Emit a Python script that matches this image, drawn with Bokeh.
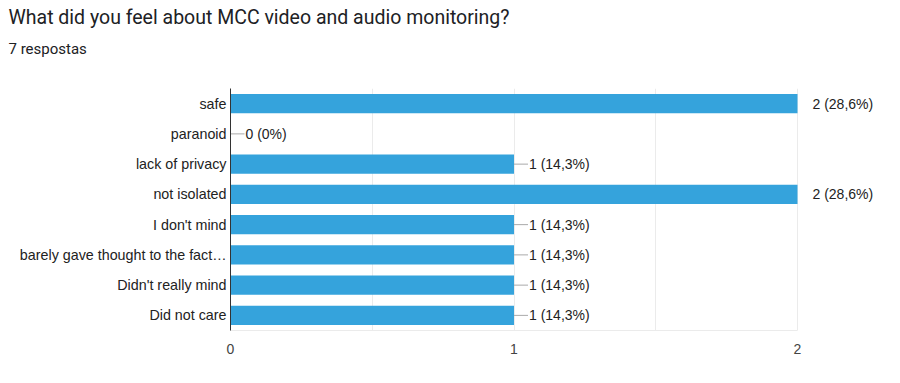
from bokeh.plotting import figure
from bokeh.models import (ColumnDataSource, FactorRange, Range1d, FixedTicker,
                          LabelSet, Title)
from bokeh.core.properties import value
from bokeh.embed import file_html
from bokeh.resources import INLINE

# ---- data ----
categories = ["safe", "paranoid", "lack of privacy", "not isolated", "I don't mind",
              "barely gave thought to the fact\u2026", "Didn't really mind", "Did not care"]
counts = [2, 0, 1, 2, 1, 1, 1, 1]
total_responses = 7
x_ticks = [0, 1, 2]
title_text = "What did you feel about MCC video and audio monitoring?"
subtitle_text = f"{total_responses} respostas"


def fmt_pct(c):
    p = round(100.0 * c / total_responses, 1)
    s = f"{p:.1f}".replace(".", ",")
    if s.endswith(",0"):
        s = s[:-2]
    return s + "%"


labels = [f"{c} ({fmt_pct(c)})" for c in counts]

W, H = 884, 367
LEFT, TOP, BOTTOM = 230, 87, 37
AXIS_PX = 567                    # pixel width of the 0..2 value axis
xmin, xmax = x_ticks[0], x_ticks[-1]
px_per_unit = AXIS_PX / (xmax - xmin)
x_end = xmax + (W - LEFT - AXIS_PX) / px_per_unit   # room for outside labels
lead = 14 / px_per_unit

lead_cat = [cat for c, cat in zip(counts, categories) if c < xmax]
lead_x0 = [c for c in counts if c < xmax]
lead_x1 = [c + lead for c in lead_x0]

src = ColumnDataSource(dict(cat=categories, count=counts, label=labels))
lead_src = ColumnDataSource(dict(cat=lead_cat, x0=lead_x0, x1=lead_x1))

p = figure(width=W, height=H, output_backend="svg", toolbar_location=None,
           y_range=FactorRange(factors=categories[::-1]),
           x_range=Range1d(xmin, x_end),
           min_border_left=LEFT, min_border_right=0,
           min_border_top=TOP, min_border_bottom=BOTTOM,
           title=None)
p.outline_line_color = None
p.background_fill_color = "white"
p.border_fill_color = "white"

p.hbar(y="cat", right="count", left=0, height=0.63, source=src,
       fill_color="#35a3dc", line_color=None)
p.segment(x0="x0", y0="cat", x1="x1", y1="cat", source=lead_src,
          line_color="#aaaaaa", line_width=1)

ls = LabelSet(x="count", y="cat", text="label", source=src, x_offset=15,
              text_baseline="middle", text_font=value("Liberation Sans"),
              text_font_size="14px", text_color="#222222")
p.add_layout(ls)

# axes
p.xaxis.ticker = FixedTicker(ticks=x_ticks, minor_ticks=[0.5, 1.5])
p.xaxis.bounds = (xmin, xmax)
p.xaxis.major_tick_line_color = None
p.xaxis.minor_tick_line_color = None
p.xaxis.axis_line_color = "#ebebeb"
p.xaxis.major_label_text_font = "Liberation Sans"
p.xaxis.major_label_text_font_size = "14px"
p.xaxis.major_label_text_color = "#444444"
p.xaxis.major_label_standoff = 7

p.yaxis.major_tick_line_color = None
p.yaxis.minor_tick_line_color = None
p.yaxis.axis_line_color = "#333333"
p.yaxis.major_label_text_font = "Liberation Sans"
p.yaxis.major_label_text_font_size = "14.3px"
p.yaxis.major_label_text_color = "#222222"
p.yaxis.major_label_standoff = -2

p.xgrid.bounds = (xmin, xmax)
p.xgrid.grid_line_color = "#ebebeb"
p.xgrid.minor_grid_line_color = "#ebebeb"
p.ygrid.grid_line_color = None

# spacer between frame and subtitle
p.add_layout(Title(text=" ", text_font_size="1px", standoff=23), "above")
p.add_layout(Title(text=subtitle_text, text_font="Roboto", text_font_size="15px",
                   text_font_style="normal", text_color="#202124",
                   align="left", offset=-LEFT + 8, standoff=10), "above")
p.add_layout(Title(text=title_text, text_font="Roboto", text_font_size="19.5px",
                   text_font_style="normal", text_color="#202124",
                   align="left", offset=-LEFT + 8, standoff=7), "above")

open("out.html", "w").write(file_html(p, INLINE))
